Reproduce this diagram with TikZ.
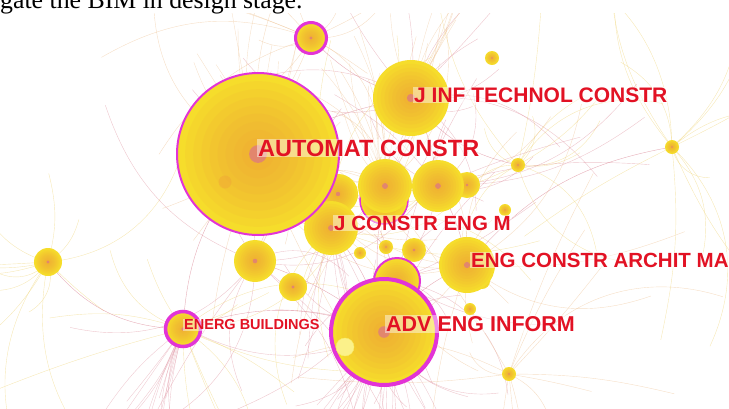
\documentclass[tikz,border=0pt]{standalone}
\usepackage{fontspec}
\setmainfont{Liberation Serif}
\setsansfont{Liberation Sans}
\usetikzlibrary{positioning,backgrounds}

\definecolor{citeyellow}{RGB}{247,229,42}
\definecolor{citeorange}{RGB}{240,150,60}
\definecolor{citecore}{RGB}{222,120,130}
\definecolor{citering}{RGB}{226,52,214}
\definecolor{citered}{RGB}{226,18,36}
\definecolor{linkpeach}{RGB}{236,190,140}
\definecolor{linkpink}{RGB}{220,140,155}
\definecolor{linkyellow}{RGB}{238,210,110}

\begin{document}
\begin{tikzpicture}[x=1pt, y=-1pt, node distance=0pt]
  \tikzstyle{journal} = [circle, inner sep=0pt, fill=citeyellow];
  \tikzstyle{rings} = [citeorange, fill opacity=0.09];
  \tikzstyle{core} = [citecore, fill opacity=0.75];
  \tikzstyle{burst} = [draw=citering];
  \tikzstyle{jlabel} = [text=citered, fill=white, fill opacity=0.45, text opacity=1, inner sep=1pt, font={\sffamily\bfseries}];
  \tikzstyle{link} = [line width=0.4pt, opacity=0.5];

  \useasboundingbox (0,0) rectangle (729,408);

  \node[anchor=base west, inner sep=0pt, font=\fontsize{25.8}{30}\selectfont] (cap) at (0,8) {gate the BIM in design stage.};

  % name/x/y/radius/burst ring width, small ones first
  \foreach \n/\x/\y/\r/\w in {d1/492/58/7/0, d2/518/165/7/0, d3/672/147/7/0, d4/509/374/7/0,
      d5/470/309/6/0, d6/505/210/6/0, d7/360/253/6/0, d8/386/247/7/0, d9/414/250/12/0,
      bl/48/262/14/0, c14/255/261/21/0, c15/293/287/14/0, c16/467/185/13/0,
      mr/384/200/24/1.5, c20/338/194/20/0, c17/385/186/27/0, c18/438/186/26/0,
      jc/331/228/27/0, c19/397/281/23/2, d10/482/281/8/0, ea/467/265/28/0,
      ji/411/98/38/0, tp/311/38/15.5/3, eb/183/329/17.5/3.5, ad/384/332/53/4,
      ac/258/154/81/2}{
    \node[journal, minimum size={2*\r pt}] (\n) at (\x,\y) {};
    \foreach \k in {1,...,10}
      \fill[rings] (\n.center) circle ({\r*\k/10*1pt});
    \fill[core] (\n.center) circle ({\r*0.11*1pt});
    \ifdim \w pt>0pt
      \draw[burst, line width=\w pt] (\n.center) circle ({\r*1pt});
    \fi
  }
  \node[journal, fill=citeyellow!55!white, draw=citeyellow!70!white, minimum size=18pt] (sm) at (345,347) {};
  \node[circle, inner sep=0pt, fill=citeorange, fill opacity=0.3, minimum size=13pt] (in1) at (225,182) {};

  \node[jlabel, font={\sffamily\bfseries\fontsize{23.5}{28}\selectfont}, right=-1pt of ac.center, yshift=6pt] (acl) {AUTOMAT CONSTR};
  \node[jlabel, font={\sffamily\bfseries\fontsize{21}{25}\selectfont}, right=2pt of ji.center, yshift=3pt] (jil) {J INF TECHNOL CONSTR};
  \node[jlabel, font={\sffamily\bfseries\fontsize{20.5}{24}\selectfont}, right=2pt of jc.center, yshift=5pt] (jcl) {J CONSTR ENG M};
  \node[jlabel, font={\sffamily\bfseries\fontsize{20.5}{24}\selectfont}, right=3pt of ea.center, yshift=5pt] (eal) {ENG CONSTR ARCHIT MA};
  \node[jlabel, font={\sffamily\bfseries\fontsize{21.5}{25}\selectfont}, right=1pt of ad.center, yshift=8pt] (adl) {ADV ENG INFORM};
  \node[jlabel, font={\sffamily\bfseries\fontsize{14.5}{17}\selectfont}, right=0pt of eb.center, yshift=4pt] (ebl) {ENERG BUILDINGS};

  \begin{scope}[on background layer]
    \clip (0,13) rectangle (729,408);
    \pgfmathsetseed{17}
    \foreach \i in {1,...,210}{
      \pgfmathsetmacro{\hub}{{"ac","ji","jc","ea","ad","eb","c17","c18","bl","tp","c14","d3","d4","c19","d2"}[mod(\i,15)]}
      \pgfmathsetmacro{\col}{{"linkpeach","linkpink","linkyellow"}[mod(\i,3)]}
      \pgfmathsetmacro{\ang}{rnd*360}
      \pgfmathsetmacro{\len}{40+rnd*190}
      \pgfmathsetmacro{\bd}{rnd*80-40}
      \coordinate (p\i) at ([shift={(\ang:\len)}]\hub.center);
      \draw[link, draw=\col] (\hub.center) to[bend left=\bd] (p\i);
    }
    % fans towards the bottom and the top edge
    \foreach \hub/\amin/\arange/\cnt/\col in {eb/95/45/14/linkpink, ad/55/80/22/linkpink, jc/60/60/10/linkpink,
        ac/235/70/14/linkpeach, c17/240/60/14/linkpeach, ji/250/60/8/linkpeach}
      \foreach \j in {1,...,\cnt}{
        \pgfmathsetmacro{\ang}{\amin+rnd*\arange}
        \pgfmathsetmacro{\len}{70+rnd*90}
        \pgfmathsetmacro{\bd}{rnd*30-15}
        \coordinate (q\hub\j) at ([shift={(\ang:\len)}]\hub.center);
        \draw[link, draw=\col, opacity=0.45] (\hub.center) to[bend left=\bd] (q\hub\j);
      }
    \foreach \a/\b/\bd in {ac/ji/10, ac/jc/-15, ji/c18/10, jc/ad/12, ad/eb/-20, ad/ea/15,
        ea/c18/-10, eb/ac/20, c14/ad/10, tp/ji/-15, c17/ad/-10, bl/eb/-25, d2/ji/20, d3/ea/-20}
      \draw[link, draw=linkpink, opacity=0.7] (\a.center) to[bend left=\bd] (\b.center);
  \end{scope}
\end{tikzpicture}
\end{document}
